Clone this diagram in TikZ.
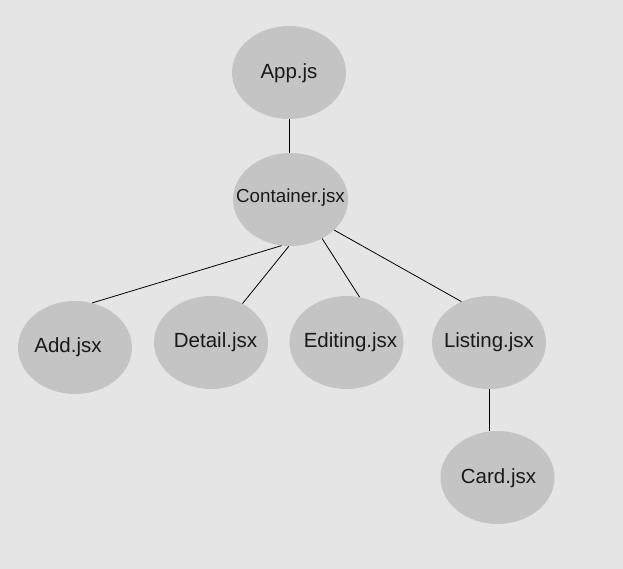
\documentclass[tikz,border=0pt]{standalone}
\usepackage{fontspec}
\setmainfont{Liberation Sans}
\usetikzlibrary{shapes.geometric}
\definecolor{bgc}{HTML}{E5E5E5}
\definecolor{ellc}{HTML}{C4C4C4}
\begin{document}
\begin{tikzpicture}[x=1pt,y=-1pt,
  comp/.style={ellipse,fill=ellc,draw=none,minimum width=114pt,minimum height=93pt,inner sep=0pt},
  lbl/.style={font=\fontsize{20.5}{24}\selectfont,text=black!90,inner sep=0pt},
  link/.style={draw=black,line width=0.8pt}]
\fill[bgc] (0,0) rectangle (623,569);
\useasboundingbox (0,0) rectangle (623,569);
\node[comp,label={[lbl,yshift=-1pt]center:App.js}] (app) at (289,72.5) {};
\node[comp,minimum width=115pt,label={[lbl,font=\fontsize{18.8}{22}\selectfont,yshift=1.5pt]center:Container.jsx}] (cont) at (290.5,199.5) {};
\node[comp,label={[lbl,xshift=-7pt]center:Add.jsx}] (add) at (75,347.5) {};
\node[comp,label={[lbl,xshift=4.5pt]center:Detail.jsx}] (det) at (211,342.5) {};
\node[comp,label={[lbl,xshift=4pt]center:Editing.jsx}] (edit) at (346.5,342.5) {};
\node[comp,label={[lbl]center:Listing.jsx}] (list) at (489,342.5) {};
\node[comp,label={[lbl,xshift=1pt,yshift=-1pt]center:Card.jsx}] (card) at (497.5,477.5) {};
\draw[link] (app.south) -- (app.south |- cont.north);
\draw[link] (cont.259.6) -- (add.69.9);
\draw[link] (cont.268) -- (det.51.3);
\draw[link] (cont.309.6) -- (edit.74.95);
\draw[link] (cont.325.6) -- (list.124.95);
\draw[link] (list.south) -- (list.south |- card.north);
\end{tikzpicture}
\end{document}
